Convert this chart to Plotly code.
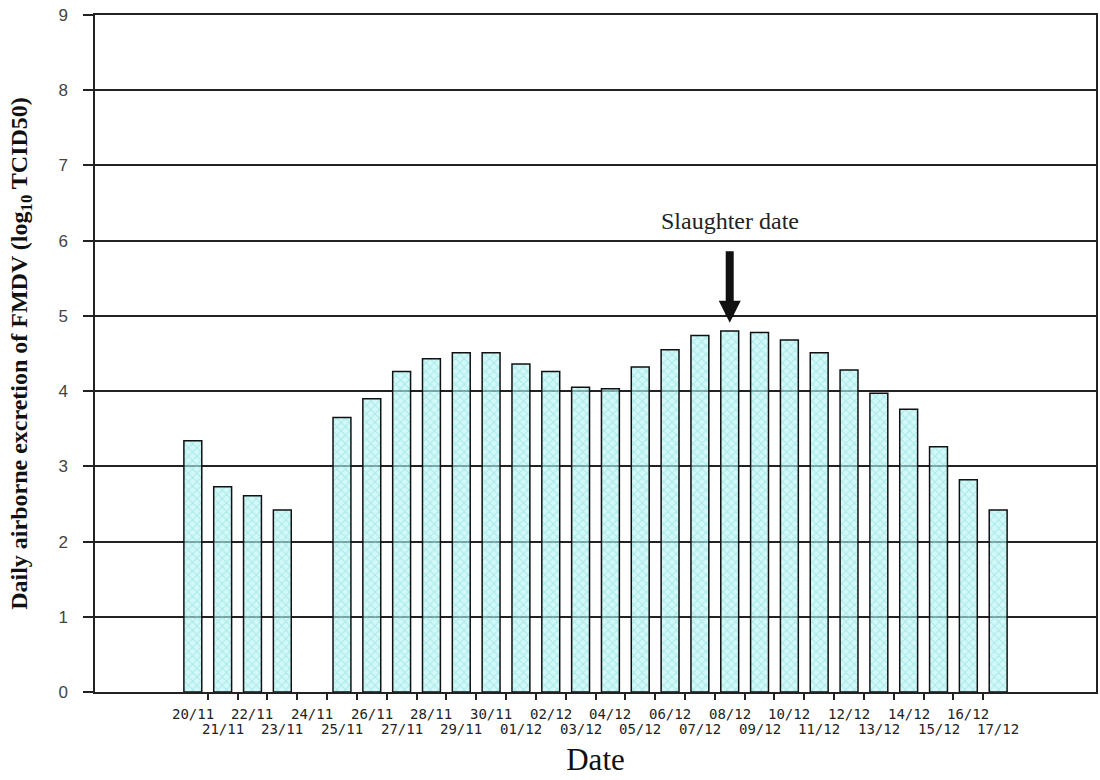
import plotly.graph_objects as go

# Daily airborne FMDV excretion, 20/11 to 17/12
dates = ["20/11", "21/11", "22/11", "23/11", "24/11", "25/11", "26/11", "27/11",
         "28/11", "29/11", "30/11", "01/12", "02/12", "03/12", "04/12", "05/12",
         "06/12", "07/12", "08/12", "09/12", "10/12", "11/12", "12/12", "13/12",
         "14/12", "15/12", "16/12", "17/12"]
excretion = [3.34, 2.73, 2.61, 2.42, None, 3.65, 3.90, 4.26,
             4.43, 4.51, 4.51, 4.36, 4.26, 4.05, 4.03, 4.32,
             4.55, 4.74, 4.80, 4.78, 4.68, 4.51, 4.28, 3.97,
             3.76, 3.26, 2.82, 2.42]
y_ticks = list(range(0, 10))
slaughter_date = "08/12"

idx = list(range(len(dates)))

fig = go.Figure()
fig.add_trace(go.Bar(
    x=idx,
    y=excretion,
    width=0.6,
    marker=dict(
        color="rgba(170,240,240,0.6)",
        line=dict(color="#111111", width=1.5),
        pattern=dict(shape="x", fgcolor="rgba(120,215,215,0.9)",
                     bgcolor="rgba(180,243,243,0.6)", size=6, solidity=0.3),
    ),
    showlegend=False,
))

# date labels on two staggered rows under the axis
for i, d in enumerate(dates):
    fig.add_annotation(x=i, y=0, xref="x", yref="paper", yanchor="middle",
                       yshift=-22 if i % 2 == 0 else -37, text=d, showarrow=False,
                       font=dict(family="DejaVu Sans Mono", size=14, color="#222222"))

s = dates.index(slaughter_date)
fig.add_annotation(x=s, y=4.91, ax=s, ay=5.88, axref="x", ayref="y",
                   text="", showarrow=True, arrowhead=2, arrowsize=0.55,
                   arrowwidth=8, arrowcolor="#111111")
fig.add_annotation(x=s, y=6.26, text="Slaughter date", showarrow=False,
                   font=dict(family="Liberation Serif", size=24, color="#222222"))

fig.update_layout(
    width=1100, height=780,
    margin=dict(l=95, r=2, t=15, b=88),
    plot_bgcolor="white", paper_bgcolor="white",
    xaxis=dict(
        range=[-3.28, 30.28],
        showticklabels=False,
        ticks="", showgrid=False, zeroline=False,
        showline=True, linecolor="#222222", linewidth=1.5, mirror=True,
        minor=dict(tickmode="array", tickvals=[i + 0.5 for i in idx[:-1]],
                   ticks="outside", ticklen=6, tickcolor="#222222", tickwidth=1.5,
                   showgrid=False),
        title=dict(text="Date", font=dict(family="Liberation Serif", size=31, color="#111111"),
                   standoff=56),
    ),
    yaxis=dict(
        range=[0, 9], tickmode="array", tickvals=y_ticks,
        ticks="outside", ticklen=10, tickcolor="#222222", tickwidth=1.5,
        ticklabelstandoff=12,
        showgrid=True, gridcolor="#222222", gridwidth=1.5,
        zeroline=False, showline=True, linecolor="#222222", linewidth=1.5, mirror=True,
        tickfont=dict(family="Liberation Sans", size=17, color="#444444"),
        title=dict(text="<b>Daily airborne excretion of FMDV (log<sub>10</sub> TCID50)</b>",
                   font=dict(family="Liberation Serif", size=24, color="#111111"),
                   standoff=24),
    ),
)

fig.write_html("out.html")
